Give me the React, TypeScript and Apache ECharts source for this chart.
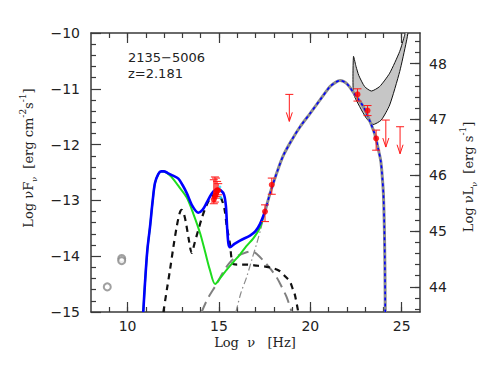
import React, { useEffect, useRef } from "react";
import * as echarts from "echarts";

// ---- data (log nu [Hz], log nuFnu [erg cm^-2 s^-1]) ----
const totalLow: number[][] = [
  [10.86, -15], [10.95, -14.5], [11.08, -13.9], [11.23, -13.47], [11.37, -13.02], [11.5, -12.69],
  [11.68, -12.53], [11.84, -12.48], [11.99, -12.48], [12.2, -12.51], [12.45, -12.55], [12.78, -12.61],
  [13.0, -12.72], [13.24, -12.87], [13.55, -13.1], [13.87, -13.22], [14.1, -13.17], [14.3, -13.06],
  [14.51, -12.93], [14.7, -12.84], [14.88, -12.8], [15.1, -12.82], [15.28, -12.9], [15.38, -13.1],
  [15.45, -13.5], [15.52, -13.78], [15.6, -13.84], [15.85, -13.78], [16.15, -13.72], [16.7, -13.63],
  [17.0, -13.55], [17.25, -13.42], [17.52, -13.2],
];
const totalHigh: number[][] = [
  [17.52, -13.2], [17.8, -12.87], [18.16, -12.51], [18.53, -12.19], [18.98, -11.92], [19.44, -11.68],
  [19.99, -11.44], [20.53, -11.2], [21.08, -10.96], [21.4, -10.88], [21.63, -10.85], [22.0, -10.91],
  [22.45, -11.11], [22.9, -11.32], [23.27, -11.59], [23.54, -11.83], [23.73, -12.1], [23.86, -12.31],
  [23.95, -12.64], [24.0, -12.9], [24.05, -13.5], [24.08, -14.2], [24.1, -15],
];
const nonThermal: number[][] = [
  [10.86, -15], [10.95, -14.5], [11.08, -13.9], [11.23, -13.47], [11.37, -13.02], [11.5, -12.69],
  [11.68, -12.53], [11.84, -12.48], [11.99, -12.48], [12.2, -12.52], [12.4, -12.58], [12.8, -12.75],
  [13.24, -12.95], [13.6, -13.24], [13.97, -13.59], [14.25, -13.93], [14.5, -14.24], [14.79, -14.5],
  [15.1, -14.38], [15.43, -14.24], [15.8, -14.1], [16.15, -13.97], [16.5, -13.82], [16.88, -13.68],
  [17.24, -13.49], [17.52, -13.2],
];
const thermal: number[][] = [
  [11.96, -15], [12.15, -14.6], [12.32, -14.25], [12.5, -13.85], [12.69, -13.47], [12.85, -13.23],
  [12.96, -13.17], [13.08, -13.24], [13.2, -13.41], [13.35, -13.7], [13.51, -13.94], [13.68, -13.75],
  [13.87, -13.53], [14.08, -13.3], [14.29, -13.11], [14.55, -12.95], [14.85, -12.88], [15.1, -12.95],
  [15.3, -13.15], [15.43, -13.47], [15.6, -13.77], [15.75, -14.13], [16.0, -14.15], [16.51, -14.15],
  [17.1, -14.17], [17.61, -14.19], [18.0, -14.22], [18.34, -14.27], [18.65, -14.37], [18.89, -14.46],
  [19.05, -14.6], [19.16, -14.7], [19.34, -15],
];
const ssc: number[][] = [
  [14.05, -15], [14.4, -14.75], [14.87, -14.5], [15.2, -14.3], [15.6, -14.11], [16.0, -14.0],
  [16.51, -13.93], [16.79, -13.91], [17.1, -13.97], [17.43, -14.08], [17.8, -14.22], [18.16, -14.38],
  [18.45, -14.56], [18.7, -14.73], [18.98, -15],
];
const ecLow: number[][] = [
  [15.93, -15], [16.2, -14.66], [16.51, -14.38], [16.8, -14.06], [17.06, -13.78], [17.3, -13.5], [17.52, -13.2],
];
// detections: [x, y, yLow, yHigh]
const detections: number[][] = [
  [14.72, -12.98, -13.06, -12.63], [14.78, -12.93, -13.03, -12.58], [14.84, -12.88, -12.96, -12.6],
  [14.9, -12.82, -12.93, -12.66], [14.96, -12.82, -12.9, -12.7], [17.52, -13.2, -13.38, -13.08],
  [17.89, -12.72, -12.89, -12.6], [22.58, -11.1, -11.22, -11.0], [23.13, -11.39, -11.48, -11.3],
  [23.6, -11.89, -12.1, -11.74],
];
const uvot: number[][] = [[15.05, -12.76], [15.1, -12.95]];
const upperLimits: number[][] = [[18.85, -11.1], [24.13, -11.56], [24.91, -11.68]];
const radio: number[][] = [[8.89, -14.55], [9.68, -14.04], [9.68, -14.08]];
const bowUpper: number[][] = [
  [22.36, -10.42], [22.5, -10.6], [22.65, -10.76], [22.97, -10.96], [23.34, -11.04], [23.79, -10.96],
  [24.34, -10.72], [24.89, -10.33], [25.16, -10.04], [25.2, -9.98],
];
const bowLower: number[][] = [
  [22.36, -11.08], [22.7, -11.32], [23.07, -11.53], [23.43, -11.64], [23.88, -11.56], [24.34, -11.29],
  [24.89, -10.69], [25.25, -10.16], [25.34, -9.98],
];
const xLabels = [10, 15, 20, 25];
const rightLabels = [44, 45, 46, 47, 48];
const LUM_OFFSET = 58.55;

const tickFont = { fontFamily: "DejaVu Sans", fontSize: 14, color: "#222" };
const lineCol = "#3a3a3a";

export default function App() {
  const ref = useRef<HTMLDivElement>(null);
  useEffect(() => {
    if (!ref.current) return;
    const chart = echarts.init(ref.current, undefined, { renderer: "svg" });
    const xMinor: number[] = [];
    for (let v = 9; v <= 25; v++) xMinor.push(v);
    const rMinor: number[] = [];
    for (let k = 218; k <= 242; k++) rMinor.push(Math.round(k * 20) / 100);
    const grid = { left: 91, right: 71, top: 33, bottom: 70 };
    const baseX = { type: "value", min: 8, max: 26, splitLine: { show: false } } as any;
    const lineSeries = (data: number[][], color: string, width: number, type: any, z = 2) => ({
      type: "line", data, showSymbol: false, smooth: 0.3, z,
      lineStyle: { color, width, type }, silent: true,
    });
    chart.setOption({
      animation: false,
      grid,
      xAxis: [
        { ...baseX, position: "bottom", axisLine: { lineStyle: { color: lineCol, width: 1.5 } },
          axisTick: { inside: true, length: 10, customValues: xLabels, lineStyle: { color: lineCol, width: 1.2 } },
          axisLabel: { ...tickFont, margin: 7, customValues: xLabels } },
        { ...baseX, position: "bottom", axisLine: { show: false },
          axisTick: { inside: true, length: 5, customValues: xMinor, lineStyle: { color: lineCol, width: 1.2 } },
          axisLabel: { show: false } },
        { ...baseX, position: "top", axisLine: { lineStyle: { color: lineCol, width: 1.5 } },
          axisTick: { inside: true, length: 10, customValues: xLabels, lineStyle: { color: lineCol, width: 1.2 } },
          axisLabel: { show: false } },
        { ...baseX, position: "top", axisLine: { show: false },
          axisTick: { inside: true, length: 5, customValues: xMinor, lineStyle: { color: lineCol, width: 1.2 } },
          axisLabel: { show: false } },
      ],
      yAxis: [
        { type: "value", min: -15, max: -10, interval: 1, position: "left", splitLine: { show: false },
          axisLine: { show: true, lineStyle: { color: lineCol, width: 1.5 } },
          axisTick: { inside: true, length: 10, lineStyle: { color: lineCol, width: 1.2 } },
          minorTick: { show: true, splitNumber: 5, length: 5, lineStyle: { color: lineCol, width: 1.2 } },
          axisLabel: { ...tickFont, margin: 11, formatter: (v: number) => (v < 0 ? "\u2212" + Math.abs(v) : String(v)) } },
        { type: "value", min: -15 + LUM_OFFSET, max: -10 + LUM_OFFSET, position: "right", splitLine: { show: false },
          axisLine: { show: true, lineStyle: { color: lineCol, width: 1.5 } },
          axisTick: { inside: true, length: 10, customValues: rightLabels, lineStyle: { color: lineCol, width: 1.2 } },
          axisLabel: { ...tickFont, margin: 9, customValues: rightLabels } },
        { type: "value", min: -15 + LUM_OFFSET, max: -10 + LUM_OFFSET, position: "right", splitLine: { show: false },
          axisLine: { show: false },
          axisTick: { inside: true, length: 5, customValues: rMinor, lineStyle: { color: lineCol, width: 1.2 } },
          axisLabel: { show: false } },
      ],
      series: [
        {
          type: "custom", data: [[0]], clip: true, z: 1, silent: true,
          renderItem: (_p: any, api: any) => {
            const pts = bowUpper.map((d) => api.coord(d)).concat(bowLower.slice().reverse().map((d) => api.coord(d)));
            return { type: "polygon", shape: { points: pts, smooth: 0.2 },
              style: { fill: "#c6c6c6", stroke: "#111", lineWidth: 1 } };
          },
        },
        lineSeries(ssc, "#808080", 2, [11, 6]),
        lineSeries(ecLow, "#8a8a8a", 1.2, [7, 3, 1.5, 3]),
        lineSeries(thermal, "#111", 2.2, [6, 5]),
        lineSeries(nonThermal, "#1edc1e", 2, "solid", 3),
        lineSeries(totalLow, "#0000ff", 2.6, "solid", 4),
        lineSeries(totalHigh, "#8c8c8c", 3, "solid", 4),
        lineSeries(totalHigh, "#0000ff", 1.6, [3, 3], 5),
        {
          type: "scatter", data: radio, symbol: "emptyCircle", symbolSize: 7, z: 5,
          itemStyle: { color: "#888", borderColor: "#888", borderWidth: 1 }, silent: true,
        },
        {
          type: "custom", data: detections, z: 6, silent: true, encode: { x: 0, y: 1 },
          renderItem: (_p: any, api: any) => {
            const x = api.value(0);
            const lo = api.coord([x, api.value(2)]);
            const hi = api.coord([x, api.value(3)]);
            const cw = 4;
            const st = { stroke: "#ff1a1a", lineWidth: 1 };
            return { type: "group", children: [
              { type: "line", shape: { x1: lo[0], y1: lo[1], x2: hi[0], y2: hi[1] }, style: st },
              { type: "line", shape: { x1: lo[0] - cw, y1: lo[1], x2: lo[0] + cw, y2: lo[1] }, style: st },
              { type: "line", shape: { x1: hi[0] - cw, y1: hi[1], x2: hi[0] + cw, y2: hi[1] }, style: st },
            ] };
          },
        },
        {
          type: "scatter", data: uvot, symbol: "circle", symbolSize: 3, z: 6, silent: true,
          itemStyle: { color: "#22e0ff" },
        },
        {
          type: "scatter", data: detections.map((d) => [d[0], d[1]]), symbol: "circle", symbolSize: 6, z: 7,
          silent: true, itemStyle: { color: "#ff0000" },
        },
        {
          type: "custom", data: upperLimits, z: 6, silent: true, encode: { x: 0, y: 1 },
          renderItem: (_p: any, api: any) => {
            const top = api.coord([api.value(0), api.value(1)]);
            const L = 27;
            const st = { stroke: "#ff1a1a", lineWidth: 1, fill: "none" };
            return { type: "group", children: [
              { type: "line", shape: { x1: top[0] - 4, y1: top[1], x2: top[0] + 4, y2: top[1] }, style: st },
              { type: "line", shape: { x1: top[0], y1: top[1], x2: top[0], y2: top[1] + L }, style: st },
              { type: "polyline", shape: { points: [[top[0] - 3, top[1] + L - 9], [top[0], top[1] + L], [top[0] + 3, top[1] + L - 9]] }, style: st },
            ] };
          },
        },
      ],
      graphic: [
        { type: "text", left: 128, top: 51, style: { text: "2135\u22125006", fontFamily: "DejaVu Sans", fontSize: 13, fill: "#222" } },
        { type: "text", left: 128, top: 67, style: { text: "z=2.181", fontFamily: "DejaVu Sans", fontSize: 13, fill: "#222" } },
        {
          type: "text", x: 255, y: 342,
          style: {
            text: "{a|Log  \u03BD   [Hz]}", align: "center", verticalAlign: "middle",
            rich: { a: { fontFamily: "DejaVu Serif", fontSize: 13, fill: "#222" } },
          },
        },
        {
          type: "text", x: 28, y: 158, rotation: Math.PI / 2,
          style: {
            text: "{a|Log \u03BDF}{sub|\u03BD}{a|  [erg cm}{sup|-2}{a|s}{sup|-1}{a|]}", align: "center", verticalAlign: "middle",
            rich: {
              a: { fontFamily: "DejaVu Serif", fontSize: 13, lineHeight: 20, fill: "#222" },
              sub: { fontFamily: "DejaVu Serif", fontSize: 8, lineHeight: 10, verticalAlign: "bottom", fill: "#222" },
              sup: { fontFamily: "DejaVu Serif", fontSize: 9, lineHeight: 11, verticalAlign: "top", fill: "#222" },
            },
          },
        },
        {
          type: "text", x: 468, y: 177, rotation: Math.PI / 2,
          style: {
            text: "{a|Log \u03BDL}{sub|\u03BD}{a|  [erg s}{sup|-1}{a|]}", align: "center", verticalAlign: "middle",
            rich: {
              a: { fontFamily: "DejaVu Serif", fontSize: 13, lineHeight: 20, fill: "#222" },
              sub: { fontFamily: "DejaVu Serif", fontSize: 8, lineHeight: 10, verticalAlign: "bottom", fill: "#222" },
              sup: { fontFamily: "DejaVu Serif", fontSize: 9, lineHeight: 11, verticalAlign: "top", fill: "#222" },
            },
          },
        },
      ],
    });
    return () => chart.dispose();
  }, []);
  return <div ref={ref} style={{ position: "absolute", left: 0, top: 0, width: 491, height: 382, background: "#fff" }} />;
}
